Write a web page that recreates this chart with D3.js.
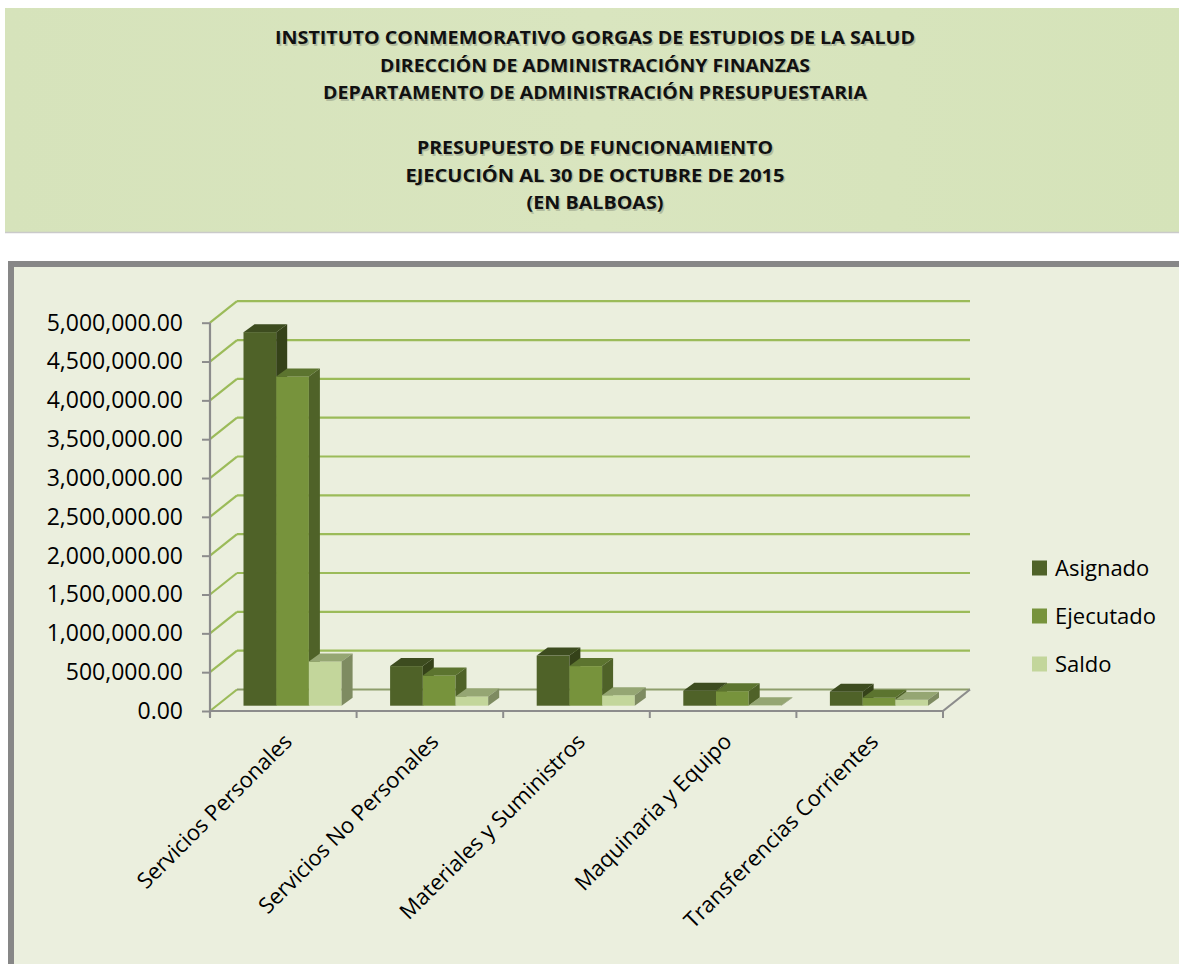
<!DOCTYPE html>
<html>
<head>
<meta charset="utf-8">
<script src="https://cdn.jsdelivr.net/npm/d3@7"></script>
<style>
  body { margin: 0; background: #fff; }
  svg { display: block; }
</style>
</head>
<body>
<div id="chart"></div>
<script>
// chart data
const titleLines = [
  "INSTITUTO CONMEMORATIVO GORGAS DE ESTUDIOS DE LA SALUD",
  "DIRECCIÓN DE ADMINISTRACIÓNY FINANZAS",
  "DEPARTAMENTO DE ADMINISTRACIÓN PRESUPUESTARIA",
  "",
  "PRESUPUESTO DE FUNCIONAMIENTO",
  "EJECUCIÓN AL 30 DE OCTUBRE DE 2015",
  "(EN BALBOAS)"
];
const categories = ["Servicios Personales", "Servicios No Personales", "Materiales y Suministros", "Maquinaria y Equipo", "Transferencias Corrientes"];
const seriesNames = ["Asignado", "Ejecutado", "Saldo"];
const asignado = [4810000, 510000, 645000, 192000, 180000];
const ejecutado = [4240000, 390000, 510000, 187000, 103000];
const saldo = [570000, 120000, 135000, 5000, 77000];
const yTicks = [0, 500000, 1000000, 1500000, 2000000, 2500000, 3000000, 3500000, 4000000, 4500000, 5000000];

const W = 1179, H = 964;
const svg = d3.select("#chart").append("svg")
    .attr("width", W)
    .attr("height", H);

// ---- header band ----
const grad = svg.append("defs").append("linearGradient")
    .attr("id", "hdr").attr("x1", 0).attr("x2", 1).attr("y1", 0).attr("y2", 0);
grad.append("stop").attr("offset", "0%").attr("stop-color", "#d6e3bb");
grad.append("stop").attr("offset", "50%").attr("stop-color", "#d9e5bf");
grad.append("stop").attr("offset", "100%").attr("stop-color", "#d5e3b9");

svg.append("rect").attr("x", 5).attr("y", 8).attr("width", W).attr("height", 224)
    .attr("fill", "url(#hdr)");
svg.append("line").attr("x1", 5).attr("x2", W).attr("y1", 232.5).attr("y2", 232.5)
    .attr("stroke", "#cacaca").attr("stroke-width", 1.5);

const titleWidths = [640, 430, 544, 0, 356, 379, 137];
titleLines.forEach((t, i) => {
  if (!t) return;
  const yy = 44 + i * 27.5;
  [["#9aa38a", 1.5], ["#111", 0]].forEach(([c, off]) => {
    svg.append("text")
      .attr("x", 595 + off).attr("y", yy + off)
      .attr("text-anchor", "middle")
      .attr("font-family", "Open Sans")
      .attr("font-weight", 700)
      .attr("font-size", 18)
      .attr("textLength", titleWidths[i])
      .attr("lengthAdjust", "spacingAndGlyphs")
      .attr("fill", c)
      .attr("opacity", off ? 0.6 : 1)
      .text(t);
  });
});

// ---- chart frame ----
svg.append("rect").attr("x", 11).attr("y", 264).attr("width", 1300).attr("height", 800)
    .attr("fill", "#ebefde").attr("stroke", "#878787").attr("stroke-width", 6);

// ---- scales ----
const y = d3.scaleLinear().domain([0, 5000000]).range([711, 322.7]);
const x = d3.scaleBand().domain(categories).range([210, 943]).padding(0);
const DX = 27, DY = -21.5;         // wall depth
const barShift = -5.3;             // bars sit a bit back on the floor
const barW = 32.7, barOff = 33.5;
const topDX = 11, topDY = -8;      // bar depth

const colors = {
  Asignado: { front: "#4f6228", top: "#3d4c1f", side: "#354219" },
  Ejecutado: { front: "#77933c", top: "#5c742f", side: "#4f6228" },
  Saldo: { front: "#c3d69b", top: "#95a673", side: "#7e8b61" }
};

const xL = x.range()[0], xR = x.range()[1];

// back wall gridlines
const grid = svg.append("g");
yTicks.forEach(t => {
  const yy = y(t);
  grid.append("line")
    .attr("x1", xL).attr("y1", yy).attr("x2", xL + DX).attr("y2", yy + DY)
    .attr("stroke", "#9bbb59").attr("stroke-width", 2.2);
  grid.append("line")
    .attr("x1", xL + DX).attr("y1", yy + DY).attr("x2", xR + DX).attr("y2", yy + DY)
    .attr("stroke", t === 0 ? "#8d9d6b" : "#9bbb59").attr("stroke-width", 2.2);
});

// floor
svg.append("line")
  .attr("x1", xR).attr("y1", y(0)).attr("x2", xR + DX).attr("y2", y(0) + DY)
  .attr("stroke", "#8c8c8c").attr("stroke-width", 2.2);

// ---- bars ----
const seriesValues = [asignado, ejecutado, saldo];
const bars = svg.append("g");
categories.forEach((c, ci) => {
  seriesNames.forEach((s, si) => {
    const v = seriesValues[si][ci];
    const x0 = x(c) + barOff + si * barW, x1 = x0 + barW;
    const yt = y(v) + barShift, yb = y(0) + barShift;
    const col = colors[s];
    const g = bars.append("g");
    // front face
    g.append("rect").attr("x", x0).attr("y", yt).attr("width", barW).attr("height", Math.max(0, yb - yt))
      .attr("fill", col.front);
    // top face
    g.append("path")
      .attr("d", `M${x0},${yt}L${x0 + topDX},${yt + topDY}L${x1 + topDX},${yt + topDY}L${x1},${yt}Z`)
      .attr("fill", col.top);
    // side face
    g.append("path")
      .attr("d", `M${x1},${yt}L${x1 + topDX},${yt + topDY}L${x1 + topDX},${yb + topDY}L${x1},${yb}Z`)
      .attr("fill", col.side);
  });
});

// ---- axes ----
const yAxis = svg.append("g")
  .attr("transform", `translate(${xL},0)`)
  .call(d3.axisLeft(y).tickValues(yTicks).tickFormat(d3.format(",.2f")).tickSize(8).tickPadding(19));
yAxis.select(".domain").attr("stroke", "#8c8c8c").attr("stroke-width", 2.2)
  .attr("d", `M0,${y(5000000)}V${y(0) + 6}`);
yAxis.selectAll(".tick line").attr("stroke", "#8c8c8c").attr("stroke-width", 2);
yAxis.selectAll(".tick text")
  .attr("font-family", "Open Sans")
  .attr("font-size", 23)
  .attr("fill", "#000");

// category axis (front floor edge)
svg.append("line")
  .attr("x1", xL).attr("x2", xR).attr("y1", y(0)).attr("y2", y(0))
  .attr("stroke", "#8c8c8c").attr("stroke-width", 2.2);
const bounds = [xL].concat(categories.map(c => x(c) + x.bandwidth()));
svg.selectAll(".ctick").data(bounds).enter().append("line")
  .attr("x1", d => d).attr("x2", d => d)
  .attr("y1", y(0)).attr("y2", y(0) + 7)
  .attr("stroke", "#8c8c8c").attr("stroke-width", 2);

svg.selectAll(".clabel").data(categories).enter().append("text")
  .attr("transform", d => `translate(${x(d) + x.bandwidth() / 2 + 10},${y(0) + 32}) rotate(-45)`)
  .attr("text-anchor", "end")
  .attr("font-family", "Open Sans")
  .attr("font-size", 22)
  .attr("fill", "#000")
  .text(d => d);

// ---- legend ----
const legend = svg.append("g");
seriesNames.forEach((s, i) => {
  const cy = 568 + i * 48;
  legend.append("rect").attr("x", 1032).attr("y", cy - 7.5).attr("width", 15).attr("height", 15)
    .attr("fill", colors[s].front);
  legend.append("text").attr("x", 1055).attr("y", cy + 8)
    .attr("font-family", "Open Sans").attr("font-size", 22).attr("fill", "#000")
    .text(s);
});
</script>
</body>
</html>
